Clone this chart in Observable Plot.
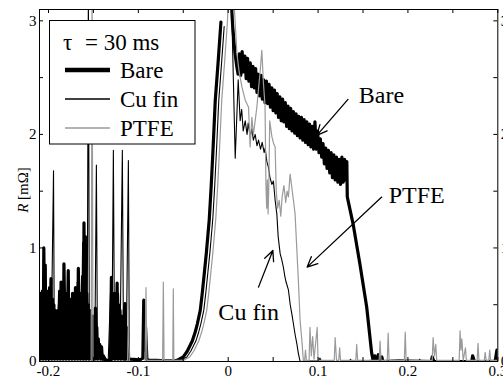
<!DOCTYPE html>
<html><head><meta charset="utf-8">
<script src="https://cdn.jsdelivr.net/npm/d3@7"></script>
<script src="https://cdn.jsdelivr.net/npm/@observablehq/plot@0.6"></script>
<style>
body{margin:0;background:#fff;}
#chart{width:503px;height:379px;}
#chart svg text{font-family:'Liberation Serif','Times New Roman',serif;}
</style></head><body><div id="chart"></div>
<script>
const xMajor = [-0.2,-0.1,0,0.1,0.2,0.3];
const xMinor = [-0.2,-0.15,-0.1,-0.05,0,0.05,0.1,0.15,0.2,0.25,0.3];
const yMajor = [0,1,2,3];
const yMinor = [0,0.5,1,1.5,2,2.5,3];
const seriesNames = ["Bare","Cu fin","PTFE"];
const seriesColors = ["#000000","#000000","#9a9a9a"];
const legendTitle = ["τ", "= 30 ms"];

const barePts = [
[-0.210,0.55],[-0.2092,0.02],[-0.2084,0.60],[-0.2076,0.35],[-0.2068,0.62],[-0.2060,0.02],[-0.2052,1.00],[-0.2044,0.40],[-0.2036,0.85],[-0.2028,0.02],[-0.2020,0.60],[-0.2012,0.35],[-0.2004,0.62],[-0.1996,0.02],[-0.1988,0.65],[-0.1980,0.40],[-0.1972,0.73],[-0.1964,0.02],[-0.1956,0.55],[-0.1948,0.30],[-0.1940,0.50],[-0.1932,0.02],[-0.1924,0.45],[-0.1916,0.30],[-0.1908,0.42],[-0.1900,0.02],[-0.1892,0.45],[-0.1884,0.35],[-0.1876,0.62],[-0.1868,0.02],[-0.1860,0.70],[-0.1852,0.40],[-0.1844,0.66],[-0.1836,0.02],[-0.1828,0.86],[-0.1820,0.45],[-0.1812,0.60],[-0.1804,0.02],[-0.1796,0.55],[-0.1788,0.40],[-0.1780,0.80],[-0.1772,0.02],[-0.1764,0.55],[-0.1756,0.35],[-0.1748,0.50],[-0.1740,0.02],[-0.1732,0.60],[-0.1724,0.35],[-0.1716,0.45],[-0.1708,0.02],[-0.1700,0.65],[-0.1692,0.35],[-0.1684,0.55],[-0.1676,0.02],[-0.1668,0.82],[-0.1660,0.40],[-0.1652,0.50],[-0.1644,0.02],[-0.1636,0.60],[-0.1628,0.40],[-0.1620,0.75],[-0.1612,0.02],[-0.1605,1.22],[-0.1598,0.45],[-0.1590,1.10],[-0.1582,0.02],[-0.1574,0.60],[-0.1566,0.30],[-0.1558,0.50],[-0.1550,0.02],[-0.1542,0.45],[-0.1534,0.25],[-0.1526,0.40],[-0.1518,0.02],[-0.1510,0.40],[-0.1502,0.20],[-0.1494,0.35],[-0.1486,0.02],[-0.1478,0.47],[-0.1470,0.15],[-0.1462,0.30],[-0.1454,0.02],[-0.1446,0.20],[-0.1438,0.05],[-0.1430,0.15],[-0.1420,0.02],[-0.1410,0.13],[-0.1400,0.02],[-0.1390,0.05],[-0.137,0.02],[-0.135,0.01],[-0.131,0.01],
[-0.1300,0.74],[-0.1292,0.02],[-0.1284,0.50],[-0.1276,0.30],[-0.1268,0.60],[-0.1260,0.02],[-0.1252,0.55],[-0.1244,0.35],[-0.1236,0.69],[-0.1228,0.02],[-0.1220,0.50],[-0.1212,0.30],[-0.1204,0.45],[-0.1196,0.02],[-0.1188,0.40],[-0.1180,0.25],[-0.1172,0.35],[-0.1164,0.02],[-0.1156,0.45],[-0.1148,0.51],[-0.1140,0.02],[-0.1132,0.30],[-0.1124,0.10],[-0.1116,0.25],[-0.1108,0.02],[-0.109,0.02],[-0.105,0.02],[-0.100,0.015],[-0.097,0.02],[-0.095,0.03],[-0.094,0.54],[-0.093,0.10],[-0.092,0.30],[-0.0905,0.02],[-0.088,0.01],[-0.080,0.01],[-0.070,0.005],[-0.060,0.005],[-0.057,0.01],[-0.050,0.04],[-0.0456,0.09],[-0.040,0.18],[-0.0367,0.26],[-0.0344,0.33],[-0.0311,0.45],[-0.0289,0.60],[-0.0267,0.77],[-0.0244,0.95],[-0.0211,1.25],[-0.0189,1.55],[-0.0167,1.90],[-0.0144,2.30],[-0.0111,2.65],[-0.0081,2.99],[-0.004,NaN],
[0.0025,3.30],[0.005,2.95],[0.0075,2.72],[0.0095,2.60],[0.0110,2.53],[0.0125,2.71],[0.0140,2.52],[0.0155,2.73],[0.0170,2.55],[0.0185,2.69],[0.0200,2.49],[0.0215,2.67],[0.0230,2.47],[0.0245,2.63],[0.0260,2.42],[0.0275,2.60],[0.0290,2.41],[0.0305,2.58],[0.0320,2.37],[0.0335,2.53],[0.0350,2.34],[0.0365,2.52],[0.0380,2.31],[0.0395,2.48],[0.0410,2.28],[0.0425,2.47],[0.0440,2.27],[0.0455,2.44],[0.0470,2.24],[0.0485,2.41],[0.0500,2.21],[0.0515,2.39],[0.0530,2.19],[0.0545,2.36],[0.0560,2.15],[0.0575,2.33],[0.0590,2.12],[0.0605,2.31],[0.0620,2.11],[0.0635,2.28],[0.0650,2.07],[0.0665,2.25],[0.0680,2.05],[0.0695,2.23],[0.0710,2.03],[0.0725,2.20],[0.0740,2.01],[0.0755,2.18],[0.0770,1.99],[0.0785,2.16],[0.0800,1.97],[0.0815,2.15],[0.0830,1.95],[0.0845,2.13],[0.0860,1.93],[0.0875,2.11],[0.0890,1.91],[0.0905,2.09],[0.0920,1.89],[0.0935,2.07],[0.0950,1.87],[0.0965,2.11],[0.0980,1.87],[0.0995,2.03],[0.1010,1.84],[0.1025,1.96],[0.1040,1.80],[0.1055,1.92],[0.1070,1.74],[0.1085,1.88],[0.1100,1.70],[0.1115,1.86],[0.1130,1.66],[0.1145,1.84],[0.1160,1.62],[0.1175,1.82],[0.1190,1.60],[0.1205,1.80],[0.1220,1.58],[0.1235,1.78],[0.1250,1.56],[0.1265,1.80],[0.1280,1.58],[0.1295,1.78],[0.1310,1.60],[0.1320,1.76],[0.1325,1.45],[0.139,1.21],[0.1465,0.86],[0.1541,0.48],[0.1597,0.07],[0.1615,0.00],[0.163,0.05],[0.165,0.01],[0.167,0.06],[0.169,0.00],[0.171,0.04],[0.172,0.00],[0.190,0.005],[0.226,0.00],[0.227,0.04],[0.229,0.00],[0.271,0.00],[0.272,0.05],[0.274,0.00],[0.297,0.00],[0.299,0.10],[0.300,0.05]
];

const cuPts = [
[-0.210,0.30],[-0.2085,0.55],[-0.207,0.10],[-0.2055,0.95],[-0.204,0.10],[-0.2025,0.50],[-0.201,0.05],[-0.1995,0.60],[-0.198,0.15],[-0.1965,0.45],[-0.1944,1.68],[-0.1935,0.10],[-0.192,0.35],[-0.1905,0.05],[-0.189,0.50],[-0.1875,0.10],[-0.186,0.60],[-0.1845,0.05],[-0.183,0.75],[-0.1815,0.10],[-0.180,0.55],[-0.1785,0.20],[-0.177,0.70],[-0.1755,0.10],[-0.174,0.50],[-0.1725,0.05],[-0.171,0.55],[-0.1695,0.10],[-0.168,0.70],[-0.1665,0.05],[-0.165,0.40],[-0.1635,0.10],[-0.162,1.05],[-0.1605,0.20],[-0.1585,0.90],[-0.157,0.10],[-0.1556,3.30],[-0.1545,0.10],[-0.153,0.35],[-0.1515,0.05],[-0.150,0.30],[-0.1485,0.02],[-0.1467,1.73],[-0.1455,0.05],[-0.144,0.10],[-0.142,0.02],[-0.138,0.01],[-0.1335,0.01],[-0.131,0.60],[-0.1295,0.05],[-0.1278,1.86],[-0.1265,0.10],[-0.125,0.55],[-0.1235,0.10],[-0.122,0.60],[-0.1205,0.05],[-0.1178,1.86],[-0.1165,0.10],[-0.115,0.45],[-0.1135,0.05],[-0.1111,1.77],[-0.110,0.02],[-0.105,0.01],[-0.100,0.01],[-0.095,0.02],[-0.0935,0.45],[-0.0925,0.02],[-0.085,0.01],[-0.070,0.005],[-0.060,0.005],[-0.053,0.01],[-0.046,0.04],[-0.0417,0.09],[-0.036,0.18],[-0.0328,0.26],[-0.0305,0.33],[-0.0272,0.45],[-0.025,0.60],[-0.0228,0.77],[-0.0205,0.95],[-0.0172,1.25],[-0.015,1.55],[-0.0128,1.90],[-0.0105,2.30],[-0.0072,2.65],[-0.0045,2.95],[-0.002,NaN],
[0.0033,3.30],[0.0078,1.79],[0.0111,2.48],[0.0133,2.12],[0.015,2.22],[0.0167,2.03],[0.0189,2.12],[0.021,2.00],[0.0222,2.10],[0.0245,1.98],[0.0263,2.05],[0.028,1.95],[0.030,2.00],[0.032,1.90],[0.0337,1.95],[0.036,1.87],[0.0378,1.93],[0.040,1.84],[0.0411,1.88],[0.043,1.76],[0.0448,1.71],[0.0465,1.62],[0.0486,1.56],[0.0503,1.59],[0.0522,1.42],[0.0541,1.30],[0.0556,1.10],[0.0578,0.95],[0.0595,0.90],[0.0614,0.83],[0.063,0.75],[0.0644,0.70],[0.067,0.63],[0.069,0.50],[0.0708,0.42],[0.0722,0.35],[0.0744,0.24],[0.0765,0.15],[0.0781,0.07],[0.080,0.00],[0.090,0.005],[0.101,0.005],[0.102,0.03],[0.104,0.00],[0.135,0.00],[0.136,0.02],[0.138,0.00],[0.160,0.01],[0.200,0.005],[0.212,0.00],[0.213,0.02],[0.215,0.00],[0.250,0.005],[0.300,0.01]
];

const ptfePts = [
[-0.210,0.00],[-0.1525,0.00],[-0.1515,3.30],[-0.1505,0.00],[-0.112,0.00],[-0.111,0.45],[-0.110,0.00],[-0.0925,0.00],[-0.0915,0.65],[-0.0905,0.01],[-0.073,0.01],[-0.0722,0.70],[-0.0714,0.01],[-0.0617,0.01],[-0.0611,0.64],[-0.0605,0.01],[-0.050,0.01],[-0.0428,0.04],[-0.0384,0.09],[-0.0328,0.18],[-0.0295,0.26],[-0.0272,0.33],[-0.0239,0.45],[-0.0217,0.60],[-0.0195,0.77],[-0.0172,0.95],[-0.0139,1.25],[-0.0117,1.55],[-0.0095,1.90],[-0.0072,2.30],[-0.0039,2.65],[-0.0009,2.99],[0.0005,3.30],
[0.0055,3.30],[0.0097,2.71],[0.0122,2.55],[0.0152,2.42],[0.0190,2.30],[0.0226,2.24],[0.0244,1.89],[0.0263,2.15],[0.0280,2.00],[0.0300,2.12],[0.0320,2.25],[0.0337,2.40],[0.0355,2.55],[0.0374,2.74],[0.0392,2.45],[0.0410,2.25],[0.0420,1.55],[0.0428,1.35],[0.0436,1.60],[0.0444,1.30],[0.0452,1.55],[0.0462,2.12],[0.0486,1.98],[0.0505,1.92],[0.0522,1.89],[0.0535,1.50],[0.0550,1.35],[0.0567,1.42],[0.0585,1.28],[0.0600,1.45],[0.0620,1.55],[0.0640,1.40],[0.0655,1.50],[0.0670,1.45],[0.0689,1.65],[0.0705,1.55],[0.0726,1.42],[0.0744,1.30],[0.0781,0.71],[0.0800,0.36],[0.0819,0.19],[0.0837,0.00],[0.085,0.01],[0.086,0.10],[0.087,0.01],[0.090,0.01],[0.091,0.30],[0.0925,0.05],[0.094,0.22],[0.0955,0.02],[0.099,0.30],[0.100,0.01],[0.118,0.01],[0.119,0.21],[0.1205,0.01],[0.123,0.01],[0.124,0.12],[0.125,0.01],[0.142,0.01],[0.143,0.15],[0.144,0.01],[0.168,0.01],[0.169,0.18],[0.170,0.01],[0.177,0.01],[0.178,0.25],[0.179,0.01],[0.196,0.01],[0.197,0.26],[0.198,0.01],[0.227,0.01],[0.228,0.21],[0.2295,0.05],[0.231,0.15],[0.232,0.01],[0.257,0.01],[0.258,0.27],[0.259,0.10],[0.260,0.20],[0.2615,0.01],[0.264,0.12],[0.265,0.01],[0.277,0.01],[0.278,0.16],[0.279,0.01],[0.285,0.01],[0.286,0.08],[0.287,0.01],[0.290,0.01],[0.291,0.10],[0.292,0.01],[0.300,0.01]
];

const annotText = ["Bare","PTFE","Cu fin"];
const annotX = [0.1706, 0.2097, 0.0228];
const annotY = [2.344, 1.463, 0.432];
const arrowX1 = [0.1333, 0.1708, 0.0337];
const arrowY1 = [2.308, 1.448, 0.655];
const arrowX2 = [0.0986, 0.0878, 0.0497];
const arrowY2 = [1.991, 0.831, 0.978];

const FONT = "'Liberation Serif','Times New Roman',serif";
const rows = pts => pts.map(([t, r]) => ({t, r}));
const fmt = d => String(d);
const W = 503, H = 379, ML = 39, MR = 5.7, MT = 9, MB = 18;
const frameW = W - ML - MR, frameH = H - MT - MB, TICK = 4;

const plot = Plot.plot({
  width: W, height: H,
  marginLeft: ML, marginRight: MR, marginTop: MT, marginBottom: MB,
  style: {fontFamily: FONT, fontSize: "15px", background: "white", color: "black"},
  x: {domain: [-0.21, 0.3]},
  y: {domain: [0, 3.1]},
  marks: [
    Plot.line(rows(barePts), {x: "t", y: "r", stroke: seriesColors[0], strokeWidth: 3.2, clip: true}),
    Plot.line(rows(cuPts), {x: "t", y: "r", stroke: seriesColors[1], strokeWidth: 1.1, clip: true}),
    Plot.line(rows(ptfePts), {x: "t", y: "r", stroke: seriesColors[2], strokeWidth: 1.2, clip: true}),
    Plot.arrow(annotText, {x1: (d,i) => arrowX1[i], y1: (d,i) => arrowY1[i], x2: (d,i) => arrowX2[i], y2: (d,i) => arrowY2[i], stroke: "black", strokeWidth: 1.3, headLength: 13, headAngle: 50}),
    Plot.text(annotText, {x: (d,i) => annotX[i], y: (d,i) => annotY[i], text: d => d, fontSize: 24, fill: "black", fontFamily: FONT}),
    // inward ticks on all four sides
    Plot.tickX(xMinor, {x: d => d, insetTop: frameH - TICK, stroke: "black", strokeWidth: 1}),
    Plot.tickX(xMinor, {x: d => d, insetBottom: frameH - TICK, stroke: "black", strokeWidth: 1}),
    Plot.tickY(yMinor, {y: d => d, insetRight: frameW - TICK, stroke: "black", strokeWidth: 1}),
    Plot.tickY(yMinor, {y: d => d, insetLeft: frameW - TICK, stroke: "black", strokeWidth: 1}),
    Plot.axisX(xMajor, {anchor: "bottom", tickSize: 0, tickPadding: 4, tickFormat: fmt, label: null, fontFamily: FONT}),
    Plot.axisY(yMajor, {anchor: "left", tickSize: 0, tickPadding: 3, tickFormat: fmt, label: null, fontFamily: FONT}),
    Plot.axisY(yMajor, {anchor: "right", tickSize: 0, tickPadding: 3, tickFormat: fmt, label: null, fontFamily: FONT}),
    Plot.frame({stroke: "black", strokeWidth: 1})
  ]
});

const svg = d3.select(plot);
// y label
const yl = svg.append("text")
  .attr("transform", "translate(23,190) rotate(-90)")
  .attr("text-anchor", "middle").attr("dy", "0.35em")
  .style("font-family", FONT).style("font-size", "15px").attr("fill", "black");
yl.append("tspan").attr("font-style", "italic").text("R");
yl.append("tspan").text(" [mΩ]");

// legend
const lg = svg.append("g").attr("fill", "black");
lg.append("rect").attr("x", 49.5).attr("y", 20.5).attr("width", 145.5).attr("height", 123.5)
  .attr("fill", "white").attr("stroke", "black").attr("stroke-width", 1);
const legText = (x, y, s) => lg.append("text").attr("x", x).attr("y", y).attr("dy", "0.35em")
  .attr("text-anchor", "start").style("font-family", FONT).style("font-size", "23px").text(s);
legText(63, 42, legendTitle[0]);
legText(85, 42, legendTitle[1]);
const rowY = [70, 99, 128];
const rowW = [4.5, 1.3, 1.3];
seriesNames.forEach((name, i) => {
  lg.append("line").attr("x1", 65).attr("x2", 110).attr("y1", rowY[i]).attr("y2", rowY[i])
    .attr("stroke", seriesColors[i]).attr("stroke-width", rowW[i]);
  legText(120, rowY[i], name);
});

document.getElementById("chart").appendChild(plot);
</script>
</body></html>
